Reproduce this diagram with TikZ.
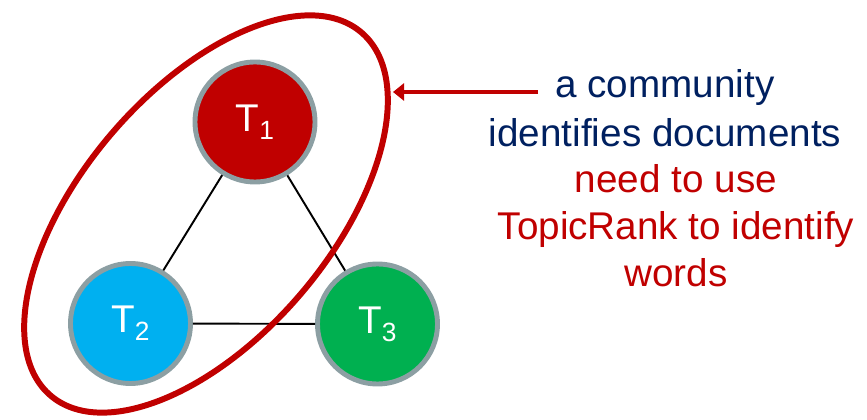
\documentclass[tikz,border=0pt]{standalone}
\usepackage{fontspec}
\setmainfont{Liberation Sans}
\usetikzlibrary{arrows.meta}
\definecolor{topicred}{HTML}{C00000}
\definecolor{topicblue}{HTML}{00B0F0}
\definecolor{topicgreen}{HTML}{00B050}
\definecolor{rimgray}{HTML}{8C9FA3}
\definecolor{navytext}{HTML}{002060}
\tikzset{
    topic node/.style={circle, draw=rimgray, line width=2.8pt, minimum size=2.4cm, inner sep=0pt, text=white, font=\fontsize{22}{26}\selectfont},
    link/.style={black, line width=1.1pt},
    community/.style={draw=topicred, line width=3.4pt},
    note line/.style={anchor=base, font=\fontsize{22}{26}\selectfont, inner sep=0pt},
}
\newcommand{\topiclabel}[1]{T\raisebox{-4.5pt}{\fontsize{15}{15}\selectfont #1}}

\begin{document}
\begin{tikzpicture}
    \useasboundingbox (0,0) rectangle (17.34,8.4);
    % the three topics
    \node[topic node, fill=topicred] (t1) at (5.10,5.96) {\topiclabel{1}};
    \node[topic node, fill=topicblue] (t2) at (2.61,1.93) {\topiclabel{2}};
    \node[topic node, fill=topicgreen] (t3) at (7.55,1.92) {\topiclabel{3}};
    \draw[link] (t1) -- (t2);
    \draw[link] (t1) -- (t3);
    \draw[link] (t2) -- (t3);
    % community around T1 and T2
    \draw[community, rotate around={49.4:(4.12,4.12)}] (4.12,4.12) ellipse [x radius=4.78, y radius=2.48];
    % note
    \node[note line, text=navytext] (l1) at (13.30,6.44) {a community};
    \node[note line, text=navytext] (l2) at (13.30,5.46) {identifies documents};
    \node[note line, text=topicred] (l3) at (13.52,4.54) {need to use};
    \node[note line, text=topicred] (l4) at (13.52,3.60) {TopicRank to identify};
    \node[note line, text=topicred] (l5) at (13.52,2.66) {words};
    \coordinate (tail) at (10.76,6.56);
    \coordinate (tip) at (7.86,6.56);
    \draw[topicred, line width=2.4pt, -{Triangle[length=0.22cm, width=0.34cm]}] (tail) -- (tip);
\end{tikzpicture}
\end{document}
